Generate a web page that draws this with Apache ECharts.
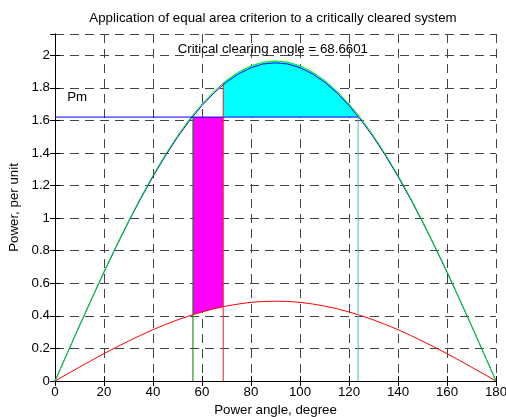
<!DOCTYPE html>
<html>
<head>
<meta charset="utf-8">
<script src="https://cdn.jsdelivr.net/npm/echarts@6/dist/echarts.min.js"></script>
<style>html,body{margin:0;padding:0;background:#fff}#c{width:506px;height:417px}</style>
</head>
<body>
<div id="c"></div>
<script>
// Data
const angles  = [0,5,10,15,20,25,30,35,40,45,50,55,60,65,70,75,80,85,90,95,100,105,110,115,120,125,130,135,140,145,150,155,160,165,170,175,180];
const greenPe = [0,0.171,0.341,0.508,0.672,0.830,0.982,1.127,1.263,1.389,1.505,1.610,1.701,1.780,1.846,1.897,1.935,1.957,1.965,1.957,1.935,1.897,1.846,1.780,1.701,1.610,1.505,1.389,1.263,1.127,0.982,0.830,0.672,0.508,0.341,0.171,0];
const bluePe  = [0,0.170,0.339,0.505,0.668,0.825,0.977,1.120,1.255,1.381,1.496,1.600,1.691,1.770,1.835,1.886,1.923,1.946,1.953,1.946,1.923,1.886,1.835,1.770,1.691,1.600,1.496,1.381,1.255,1.120,0.977,0.825,0.668,0.505,0.339,0.170,0];
const redPe   = [0,0.043,0.085,0.127,0.168,0.207,0.245,0.281,0.315,0.346,0.375,0.401,0.424,0.444,0.460,0.473,0.483,0.488,0.490,0.488,0.483,0.473,0.460,0.444,0.424,0.401,0.375,0.346,0.315,0.281,0.245,0.207,0.168,0.127,0.085,0.043,0];
const Pm = 1.62;
const delta0 = 56.3, deltaC = 68.66, deltaMax = 123.7;
const greenAtC = 1.830, redAt0 = 0.408, redAtC = 0.456;
const yTicks = [0,0.2,0.4,0.6,0.8,1,1.2,1.4,1.6,1.8,2];
const titleText = 'Application of equal area criterion to a critically cleared system';
const ccText = 'Critical clearing angle = 68.6601';

const pairs = (ys) => angles.map((a, i) => [a, ys[i]]);

// polygons
const magentaPoly = [[delta0, Pm], [deltaC, Pm], [deltaC, redAtC]];
for (let i = angles.length - 1; i >= 0; i--) if (angles[i] < deltaC && angles[i] > delta0) magentaPoly.push([angles[i], redPe[i]]);
magentaPoly.push([delta0, redAt0]);
const cyanPoly = [[deltaC, Pm], [deltaMax, Pm]];
for (let i = angles.length - 1; i >= 0; i--) if (angles[i] < deltaMax && angles[i] > deltaC) cyanPoly.push([angles[i], greenPe[i]]);
cyanPoly.push([deltaC, greenAtC]);

function polySeries(pts, color) {
  return {
    type: 'custom', data: [0], silent: true, z: 1,
    renderItem: (params, api) => ({
      type: 'polygon',
      shape: { points: pts.map(p => api.coord(p)) },
      style: { fill: color, stroke: null }
    })
  };
}
const FONT = 'Liberation Sans, Arial, sans-serif';
const FS = 13.3;
const lineS = (data, color, z) => ({ type: 'line', data, showSymbol: false, symbol: 'none', lineStyle: { color, width: 1 }, z: z || 3, silent: true, animation: false });

const chart = echarts.init(document.getElementById('c'));
chart.setOption({
  animation: false,
  backgroundColor: '#fff',
  textStyle: { fontFamily: FONT },
  grid: { left: 55, right: 10, top: 34, bottom: 36, containLabel: false, outerBoundsMode: 'none' },
  xAxis: [{
    type: 'value', min: 0, max: 180, interval: 20,
    name: 'Power angle, degree', nameLocation: 'middle', nameGap: 22,
    nameTextStyle: { fontSize: FS, color: '#000', fontFamily: FONT },
    axisLine: { lineStyle: { color: '#000' } },
    axisTick: { inside: true, length: 5, lineStyle: { color: '#000' } },
    axisLabel: { fontSize: FS, color: '#000', margin: 5, fontFamily: FONT },
    splitLine: { show: true, lineStyle: { color: '#444', type: [9, 6] } }
  }, {
    type: 'value', min: 0, max: 180, interval: 20, position: 'top',
    axisLine: { show: true, lineStyle: { color: '#000' } },
    axisTick: { inside: true, length: 5, lineStyle: { color: '#000' } },
    axisLabel: { show: false }, splitLine: { show: false }
  }],
  yAxis: [{
    type: 'value', min: 0, max: 2.13, interval: 0.2,
    name: 'Power, per unit', nameLocation: 'middle', nameGap: 27,
    nameTextStyle: { fontSize: FS, color: '#000', fontFamily: FONT },
    axisLine: { show: true, lineStyle: { color: '#000' } },
    axisTick: { show: true, inside: true, length: 5, lineStyle: { color: '#000' } },
    axisLabel: { fontSize: FS, color: '#000', margin: 5, fontFamily: FONT, showMaxLabel: false,
      formatter: v => (yTicks.some(t => Math.abs(t - v) < 1e-6) ? String(+v.toFixed(1)) : '') },
    splitLine: { show: true, lineStyle: { color: '#444', type: [9, 6] } }
  }, {
    type: 'value', min: 0, max: 2.13, interval: 0.2, position: 'right',
    axisLine: { show: true, lineStyle: { color: '#000' } },
    axisTick: { show: true, inside: true, length: 5, lineStyle: { color: '#000' } },
    axisLabel: { show: false }, splitLine: { show: false }
  }],
  series: [
    polySeries(magentaPoly, '#ff00ff'),
    polySeries(cyanPoly, '#00ffff'),
    lineS(pairs(redPe), '#ff0000'),
    lineS(pairs(bluePe), '#0000ff'),
    lineS(pairs(greenPe), '#00f000', 4),
    lineS([[0, Pm], [deltaMax, Pm]], '#0000ff', 4),
    lineS([[delta0, 0], [delta0, Pm]], '#008000', 5),
    lineS([[deltaC, 0], [deltaC, greenAtC]], '#ee2020', 5),
    lineS([[deltaMax, 0], [deltaMax, Pm]], '#40c0c0', 5)
  ]
});
const pc = chart.convertToPixel({ gridIndex: 0 }, [88.9, 2.035]);
const pp = chart.convertToPixel({ gridIndex: 0 }, [5, 1.74]);
chart.setOption({
  graphic: [
    { type: 'text', x: 273, y: 18, style: { text: titleText, font: FS + 'px ' + FONT, fill: '#000', align: 'center', verticalAlign: 'middle' }, z: 10 },
    { type: 'text', x: pc[0], y: pc[1], style: { text: ccText, font: FS + 'px ' + FONT, fill: '#000', align: 'center', verticalAlign: 'middle' }, z: 10 },
    { type: 'text', x: pp[0], y: pp[1], style: { text: 'Pm', font: FS + 'px ' + FONT, fill: '#000', align: 'left', verticalAlign: 'middle' }, z: 10 }
  ]
});
</script>
</body>
</html>
